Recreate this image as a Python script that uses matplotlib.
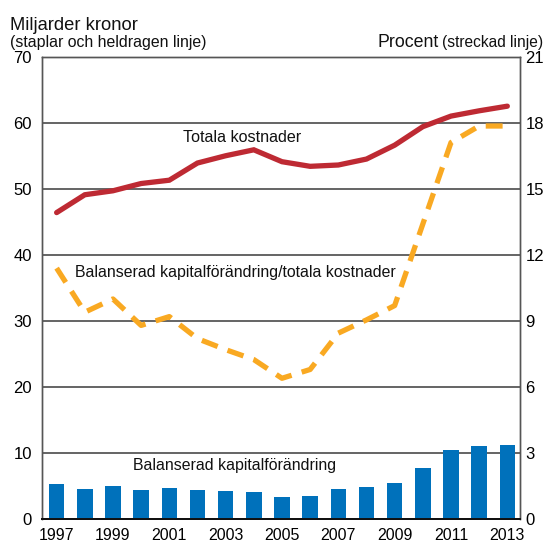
import numpy as np
import matplotlib
matplotlib.use("Agg")
import matplotlib.pyplot as plt

# data
years = np.arange(1997, 2014)
balanserad = [5.35, 4.6, 5.05, 4.45, 4.75, 4.45, 4.3, 4.15, 3.4, 3.55,
              4.6, 4.9, 5.5, 7.8, 10.5, 11.15, 11.25]
totala_kostnader = [46.4, 49.1, 49.7, 50.8, 51.3, 53.9, 55.0, 55.9, 54.1, 53.4,
                    53.6, 54.5, 56.6, 59.4, 61.0, 61.8, 62.5]
andel_procent = [11.4, 9.4, 10.0, 8.8, 9.2, 8.2, 7.7, 7.25, 6.4, 6.8,
                 8.45, 9.05, 9.7, 13.4, 17.1, 17.85, 17.85]
left_ticks = [0, 10, 20, 30, 40, 50, 60, 70]
right_ticks = [0, 3, 6, 9, 12, 15, 18, 21]
year_labels = [str(y) for y in range(1997, 2014, 2)]

BLUE = "#0071bb"
RED = "#be2a33"
ORANGE = "#f9a922"
GRID = "#3a3a3a"

plt.rcParams["font.family"] = ["Liberation Sans", "DejaVu Sans"]

fig = plt.figure(figsize=(5.46, 5.44), dpi=100)
ax = fig.add_axes([41.7 / 546, 1 - 519.3 / 544, (520 - 41.7) / 546, (519.3 - 56.6) / 544])
ax2 = ax.twinx()

# bars and solid line on left axis
ax.bar(years, balanserad, width=0.55, color=BLUE, zorder=3)
ax.plot(years, totala_kostnader, color=RED, lw=3.8, solid_capstyle="round",
        solid_joinstyle="miter", zorder=4)

# dashed line on right axis
line, = ax2.plot(years, andel_procent, color=ORANGE, lw=3.8, zorder=4)
line.set_dashes([3.2, 2.0])

ax.set_xlim(1996.47, 2013.45)
ax.set_ylim(0, 70)
ax2.set_ylim(0, 21)

ax.set_yticks(left_ticks)
ax2.set_yticks(right_ticks)
ax.set_xticks(range(1997, 2014, 2))
ax.set_xticklabels(year_labels)

ax.tick_params(axis="y", length=0, pad=7, labelsize=12)
ax2.tick_params(axis="y", length=0, pad=4, labelsize=12)
ax.tick_params(axis="x", length=0, pad=6.5, labelsize=11.5)

# horizontal grid lines
for v in left_ticks[1:-1]:
    ax.axhline(v, color=GRID, lw=1.1, zorder=1)

for a in (ax, ax2):
    a.spines["left"].set_color("#555555")
    a.spines["right"].set_color("#555555")
    a.spines["top"].set_color("#555555")
    a.spines["bottom"].set_color("#111111")
    a.spines["bottom"].set_linewidth(1.4)
    a.spines["left"].set_linewidth(1.0)
    a.spines["right"].set_linewidth(1.0)
    a.spines["top"].set_linewidth(1.0)
ax2.set_zorder(ax.get_zorder() + 1)
ax2.patch.set_visible(False)

# labels inside the plot
ax.text(2001.5, 57.7, "Totala kostnader", fontsize=11.6, ha="left", va="center",
        color="#111111", zorder=5)
ax.text(1997.65, 37.3, "Balanserad kapitalförändring/totala kostnader", fontsize=11.4,
        ha="left", va="center", color="#111111", zorder=5)
ax.text(1999.72, 8.2, "Balanserad kapitalförändring", fontsize=11.4,
        ha="left", va="center", color="#111111", zorder=5)

# axis headers
fig.text(10 / 546, 1 - 29.6 / 544, "Miljarder kronor", fontsize=13.2, va="baseline",
         color="#111111")
fig.text(10 / 546, 1 - 47 / 544, "(staplar och heldragen linje)", fontsize=11.4,
         va="baseline", color="#111111")
t = fig.text(543 / 546, 1 - 47 / 544, "(streckad linje)", fontsize=11.2,
             va="baseline", ha="right", color="#111111")
fig.canvas.draw()
bb = t.get_window_extent()
fig.text((bb.x0 - 3) / 546, 1 - 47 / 544, "Procent", fontsize=12.8,
         va="baseline", ha="right", color="#111111")

fig.savefig("out.png", dpi=100)
plt.close(fig)
